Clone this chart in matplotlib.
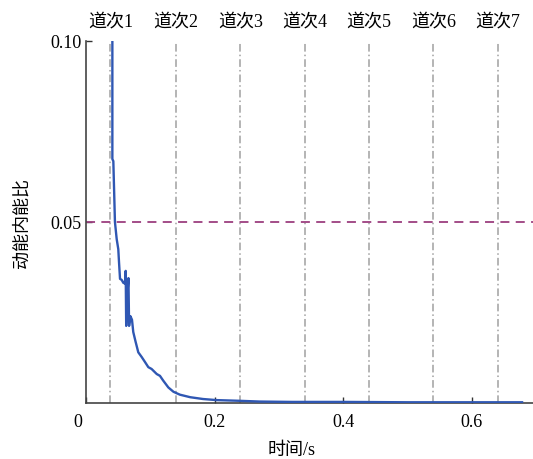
import matplotlib
matplotlib.use("Agg")
import matplotlib.pyplot as plt
import matplotlib.transforms as mtransforms

plt.rcParams["font.family"] = ["Liberation Serif", "Noto Sans CJK SC"]
plt.rcParams["font.size"] = 13

# ratio of kinetic to internal energy
time_s = [0.0410, 0.0410, 0.0425, 0.0450, 0.0477, 0.0502, 0.0513, 0.0529,
          0.0555, 0.0580, 0.0605, 0.0617, 0.0625, 0.0640, 0.0660, 0.0670,
          0.0690, 0.0715, 0.0735, 0.0770, 0.0813, 0.0866, 0.0918, 0.0969,
          0.1020, 0.1100, 0.1150, 0.1200, 0.1280, 0.1360, 0.1460, 0.1620,
          0.1820, 0.2030, 0.2400, 0.2700, 0.3200, 0.4000, 0.5000, 0.6000,
          0.6780]
ratio = [0.1150, 0.0674, 0.0668, 0.0500, 0.0453, 0.0425, 0.0390, 0.0343,
         0.0340, 0.0332, 0.0330, 0.0365, 0.0213, 0.0290, 0.0345, 0.0213,
         0.0240, 0.0230, 0.0196, 0.0170, 0.0140, 0.0127, 0.0113, 0.0099,
         0.0094, 0.0080, 0.0075, 0.0062, 0.0043, 0.0031, 0.0023, 0.0016,
         0.0011, 0.0008, 0.0006, 0.0004, 0.0003, 0.0003, 0.0002, 0.0002,
         0.0002]

pass_times = [0.038, 0.140, 0.240, 0.340, 0.440, 0.540, 0.640]
pass_labels = ["道次1", "道次2", "道次3", "道次4", "道次5", "道次6", "道次7"]
threshold = 0.05

fig = plt.figure(figsize=(5.33, 4.6), dpi=100)
ax = fig.add_axes([86 / 533, 56 / 460, 447 / 533, 362 / 460])

for t in pass_times:
    ax.axvline(t, color="#a0a0a0", lw=1.1, ls=(0, (5, 2, 1, 2)), zorder=1)
ax.axhline(threshold, color="#9c3f7f", lw=1.3, ls=(0, (5, 3.5)), zorder=2)
ax.plot(time_s, ratio, color="#2f57b3", lw=1.7, zorder=3)

trans = mtransforms.blended_transform_factory(ax.transData, ax.transAxes)
for t, lab in zip(pass_times, pass_labels):
    ax.text(t, 1.055, lab, transform=trans, ha="center", va="center")

ax.set_xlim(0, 0.695)
ax.set_ylim(0, 0.10)
ax.set_xticks([0, 0.2, 0.4, 0.6])
ax.set_xticklabels(["0", "0.2", "0.4", "0.6"])
ax.set_yticks([0.05, 0.10])
ax.set_yticklabels(["0.05", "0.10"])
ax.tick_params(direction="in", length=4, width=1, colors="#333333", labelcolor="black")
ax.tick_params(axis="x", pad=7)
ax.tick_params(axis="y", pad=3)
for s in ["top", "right"]:
    ax.spines[s].set_visible(False)
for s in ["left", "bottom"]:
    ax.spines[s].set_color("#444444")
    ax.spines[s].set_linewidth(1.2)

# the "0" at the origin sits a little left of the corner
zero_lab = ax.get_xticklabels()[0]
zero_lab.set_transform(zero_lab.get_transform()
                       + mtransforms.ScaledTranslation(-8 / 100, 0, fig.dpi_scale_trans))

ax.set_xlabel("时间/s")
ax.xaxis.set_label_coords(0.46, -0.105)
ax.set_ylabel("动能内能比")
ax.yaxis.set_label_coords(-0.125, 0.5)

fig.savefig("out.png", dpi=100)
